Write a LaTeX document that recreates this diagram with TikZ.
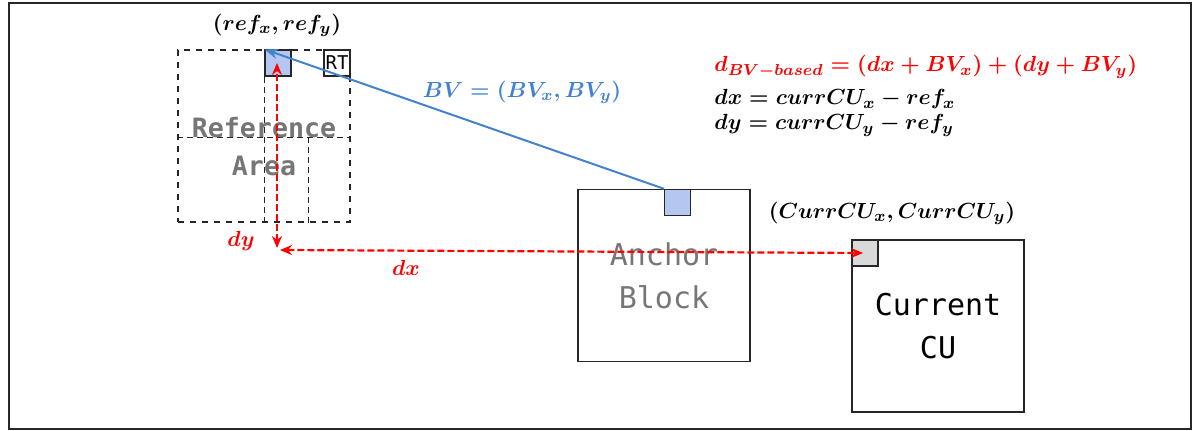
\documentclass[tikz,border=0pt]{standalone}
\usepackage{amsmath,amssymb}
\usepackage{fontspec}
\newfontfamily\codefont{DejaVu Sans Mono}
\usetikzlibrary{arrows.meta,positioning,calc}
\definecolor{bvblue}{RGB}{68,130,208}
\definecolor{sqblue}{RGB}{180,199,240}
\definecolor{sqgray}{RGB}{217,217,217}
\definecolor{labelgray}{RGB}{118,118,118}

\begin{document}
\begin{tikzpicture}[x=0.5pt, y=-0.5pt, every node/.style={inner sep=0pt},
  block/.style={rectangle, draw=black!85, line width=0.7pt, minimum size=86pt},
  refbox/.style={rectangle, draw=black!85, dashed, line width=0.7pt, minimum size=86pt},
  corner/.style={rectangle, draw=black!85, line width=0.7pt, minimum size=13pt},
  guide/.style={black!85, line width=0.4pt, dash pattern=on 3pt off 2pt},
  boxtext/.style={font=\codefont\fontsize{15}{21.5}\selectfont, align=center},
  reftext/.style={font=\codefont\bfseries\fontsize{13.3}{19}\selectfont, align=center},
  mathlbl/.style={font=\boldmath\fontsize{11.3}{13}\selectfont},
  dxy/.style={{Stealth[length=6pt,width=5pt]}-{Stealth[length=6pt,width=5pt]}, red,
              line width=1.1pt, dash pattern=on 3.5pt off 1.5pt},
  bvarrow/.style={-{Stealth[length=7pt,width=5pt]}, bvblue, line width=1pt}]
  \useasboundingbox (0,0) rectangle (1192,431);
  \draw[line width=1pt, black!85] (8.5,3.5) rectangle (1191,429);
  % reference area
  \node[refbox] (refarea) at (264,136) {};
  \node[corner, fill=sqblue] (refsq) at (278,63) {};
  \node[corner, anchor=north east, font=\codefont\fontsize{9.5}{10}\selectfont] (rt) at (refarea.north east) {RT};
  \draw[guide] (refsq.south west) -- (refsq.south west |- refarea.south);
  \draw[guide] (refarea.west |- 0,137) -- (refarea.east |- 0,137);
  \draw[guide] (refarea.south -| 308,0) -- (308,137);
  \node[reftext, text=labelgray] (reflabel) at (264,147) {Reference\\Area};
  % anchor block and current CU
  \node[block, boxtext, text=labelgray] (anchor) at (664,275.5) {Anchor\\Block};
  \node[corner, fill=sqblue, anchor=north west] (anchorsq) at (anchor.north) {};
  \node[block, boxtext] (curcu) at (938,326) {Current\\CU};
  \node[corner, fill=sqgray, anchor=north west] (cusq) at (curcu.north west) {};
  % block vector
  \draw[bvarrow] (anchorsq.north west) -- (refsq.north west);
  \node[mathlbl, text=bvblue] (bvlbl) at (522,92) {$BV=(BV_x,BV_y)$};
  % dx, dy
  \coordinate (dyorigin) at (277,248);
  \coordinate (dxorigin) at (280,250);
  \draw[dxy] (dyorigin) -- (dyorigin |- refsq.center);
  \draw[dxy] (dxorigin) -- ($(cusq.center)+(-2,0)$);
  \node[mathlbl, text=red] (dylbl) at (241,241) {$dy$};
  \node[mathlbl, text=red] (dxlbl) at (406,268) {$dx$};
  % positions
  \node[mathlbl] (reflbl) at (277,25) {$(ref_x,ref_y)$};
  \node[mathlbl] (curlbl) at (892,213) {$(CurrCU_x,CurrCU_y)$};
  % formulas
  \node[mathlbl, text=red, anchor=base west] (fdist) at (714,72) {$d_{BV-based}=(dx+BV_x)+(dy+BV_y)$};
  \node[mathlbl, anchor=base west] (fdx) at (714,105) {$dx=currCU_x-ref_x$};
  \node[mathlbl, anchor=base west] (fdy) at (714,130) {$dy=currCU_y-ref_y$};
\end{tikzpicture}
\end{document}
